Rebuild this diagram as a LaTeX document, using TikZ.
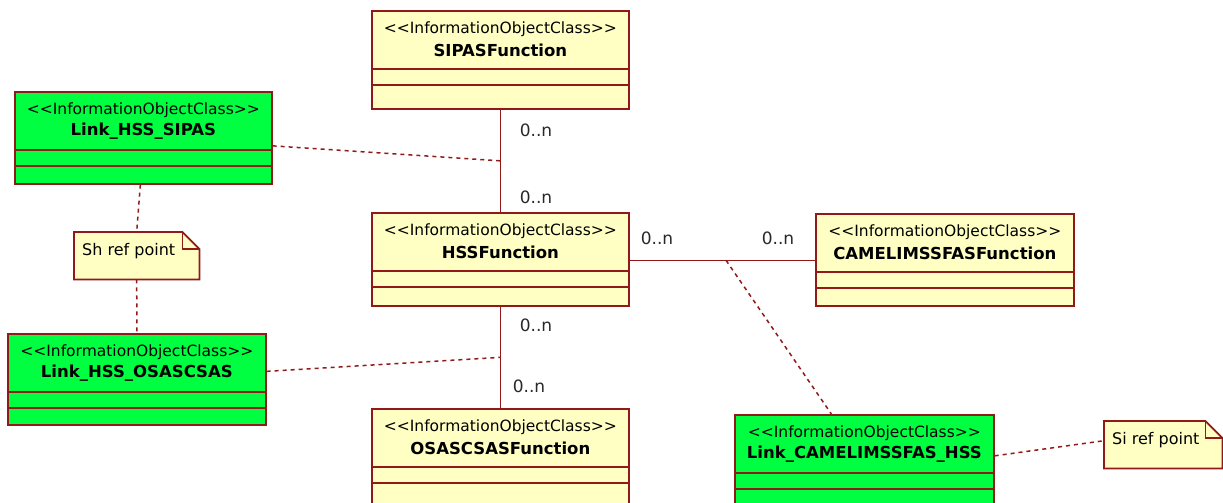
\documentclass[tikz,border=0pt]{standalone}
\usepackage{fontspec}
\setmainfont{DejaVu Sans}
\usetikzlibrary{calc}
\definecolor{umlyellow}{RGB}{255,255,196}
\definecolor{umlgreen}{RGB}{0,255,64}
\definecolor{umlred}{RGB}{145,25,25}
\definecolor{labgray}{RGB}{40,40,40}
\tikzset{
  classbox/.style={draw=umlred, line width=1.7pt, inner sep=0pt, anchor=north west, rectangle},
  classline/.style={draw=umlred, line width=1.7pt},
  stereo/.style={font=\fontsize{15.5}{17}\selectfont, text=black, inner sep=0pt},
  titletext/.style={font=\fontsize{16.5}{18}\selectfont\bfseries, text=black, inner sep=0pt},
  assoc/.style={draw=umlred, line width=1.7pt},
  dep/.style={draw=umlred, line width=1.5pt, dash pattern=on 4pt off 4pt},
  mult/.style={font=\fontsize{17}{18}\selectfont, text=labgray, inner sep=0pt},
  notebox/.style={draw=none, inner sep=0pt, anchor=north west, rectangle},
  notetext/.style={font=\fontsize{16}{17}\selectfont, text=black, inner sep=0pt, anchor=west},
}
\newcommand{\umlclass}[7]{%
  \node[classbox, fill=#6, minimum width=#4pt, minimum height=#5pt] (#1) at (#2,#3) {};
  \draw[classline] ([yshift=-59pt]#1.north west) -- ([yshift=-59pt]#1.north east);
  \draw[classline] ([yshift=-75pt]#1.north west) -- ([yshift=-75pt]#1.north east);
  \node[stereo] (#1-st) at ([yshift=-19pt]#1.north) {<{}<InformationObjectClass>{}>};
  \node[titletext] (#1-ti) at ([yshift=-40pt]#1.north) {#7};
}
\newcommand{\umlnote}[6]{%
  \node[notebox, minimum width=#4pt, minimum height=#5pt] (#1) at (#2,#3) {};
  \draw[umlred, line width=1.7pt, fill=umlyellow]
    (#1.north west) -- ([xshift=-17pt]#1.north east) -- ([yshift=-17pt]#1.north east)
    -- (#1.south east) -- (#1.south west) -- cycle;
  \draw[umlred, line width=1.7pt]
    ([xshift=-17pt]#1.north east) -- ([xshift=-17pt,yshift=-17pt]#1.north east) -- ([yshift=-17pt]#1.north east);
  \node[notetext] (#1-tx) at ([xshift=8pt,yshift=-19pt]#1.north west) {#6};
}
\begin{document}
\begin{tikzpicture}[x=1pt,y=-1pt]
\useasboundingbox (0,0) rectangle (1223,503);
\clip (0,0) rectangle (1223,503);
\fill[white] (0,0) rectangle (1223,503);

\umlclass{sipas}{371}{10}{257}{98}{umlyellow}{SIPASFunction}
\umlclass{lsipas}{14}{91}{257}{92}{umlgreen}{Link\_HSS\_SIPAS}
\umlclass{hss}{371}{212}{257}{93}{umlyellow}{HSSFunction}
\umlclass{camel}{815}{213}{258}{92}{umlyellow}{CAMELIMSSFASFunction}
\umlclass{osas}{371}{408}{257}{120}{umlyellow}{OSASCSASFunction}
\umlclass{losas}{7}{333}{258}{91}{umlgreen}{Link\_HSS\_OSASCSAS}
\umlclass{lcamel}{734}{414}{259}{120}{umlgreen}{Link\_CAMELIMSSFAS\_HSS}

\umlnote{shnote}{74}{232}{125}{47}{Sh ref point}
\umlnote{sinote}{1104}{421}{118}{47}{Si ref point}

% associations
\draw[assoc] (sipas.south) -- (hss.north);
\draw[assoc] (hss.south) -- (osas.north);
\draw[assoc] ([yshift=-1pt]hss.east) -- ([yshift=-1pt]hss.east -| camel.west);

\coordinate (a1) at ($(sipas.south)!0.5!(hss.north)$);
\coordinate (a2) at ($(hss.south)!0.5!(osas.north)$);
\coordinate (a3) at ($([yshift=-1pt]hss.east)!0.52!([yshift=-1pt]hss.east -| camel.west)$);

% association classes and note links
\draw[dep] ([yshift=-8pt]lsipas.east) -- (a1);
\draw[dep] ([yshift=8pt]losas.east) -- (a2);
\draw[dep] (a3) -- ([xshift=-33pt]lcamel.north);
\draw[dep] ([xshift=-3pt]lsipas.south) -- (shnote.north);
\draw[dep] (shnote.south) -- (losas.north);
\draw[dep] ([yshift=19pt]lcamel.east) -- ([yshift=4pt]sinote.west);

% multiplicities
\node[mult] (m1) at (536,130) {0..n};
\node[mult] (m2) at (536,197) {0..n};
\node[mult] (m3) at (536,325) {0..n};
\node[mult] (m4) at (529,386) {0..n};
\node[mult] (m5) at (657,238) {0..n};
\node[mult] (m6) at (778,238) {0..n};
\end{tikzpicture}
\end{document}
